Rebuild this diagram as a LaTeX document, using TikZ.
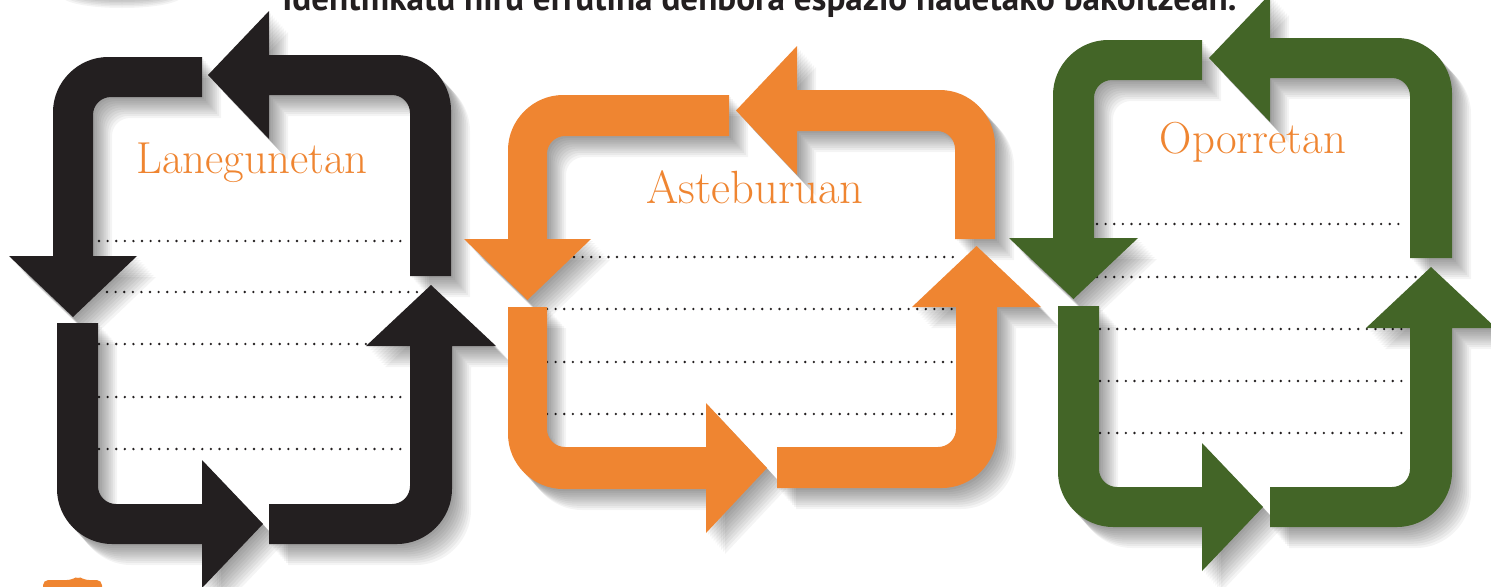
\documentclass[tikz,border=0pt]{standalone}
\usepackage{fontspec}
\newfontfamily\titlefont{PT Sans}
\usepackage{tikz}
\definecolor{loopblack}{HTML}{231F20}
\definecolor{looporange}{HTML}{EF8531}
\definecolor{loopgreen}{HTML}{436527}
\tikzstyle{dotline} = [draw=loopblack, line width=1.5pt, line cap=round, dash pattern=on 0pt off 4.9pt]
\tikzstyle{shadowlayer} = [fill=black, opacity=0.042]
\tikzstyle{looplabel} = [text=looporange, anchor=base, inner sep=0pt]

% shape with a soft shadow towards the lower right
\newcommand{\elfill}[1]{%
  \foreach \k in {1,...,10}
    \fill[shadowlayer, shift={(\k*1.9,\k*2.1)}] \elpath;
  \fill[#1] \elpath;}

% elbow arrow, head on the horizontal arm
% #1 colour, #2/#3 outer/inner x of vertical arm, #4/#5 outer/inner y of horizontal arm
% #6 x of head base, #7 y of the square end
\newcommand{\elbowh}[7]{%
  \pgfmathsetmacro\elsx{sign(#6-#2)}%
  \pgfmathsetmacro\elsy{sign(#7-#4)}%
  \pgfmathsetmacro\elmid{(#4+#5)/2}%
  \def\elpath{(#2,#7) -- (#2,{#4+\elsy*55})
    .. controls (#2,{#4+\elsy*25}) and ({#2+\elsx*25},#4) .. ({#2+\elsx*55},#4)
    -- (#6,#4) -- (#6,{#4-\elsy*44}) -- ({#6+\elsx*61},\elmid) -- (#6,{#5+\elsy*44})
    -- (#6,#5) -- ({#3+\elsx*18},#5)
    .. controls ({#3+\elsx*8},#5) and (#3,{#5+\elsy*8}) .. (#3,{#5+\elsy*18})
    -- (#3,#7) -- cycle}%
  \elfill{#1}}

% elbow arrow, head on the vertical arm
% #6 x of the square end, #7 y of head base
\newcommand{\elbowv}[7]{%
  \pgfmathsetmacro\elsx{sign(#6-#2)}%
  \pgfmathsetmacro\elsy{sign(#7-#4)}%
  \pgfmathsetmacro\elmid{(#2+#3)/2}%
  \def\elpath{(#6,#4) -- ({#2+\elsx*55},#4)
    .. controls ({#2+\elsx*25},#4) and (#2,{#4+\elsy*25}) .. (#2,{#4+\elsy*55})
    -- (#2,#7) -- ({#2-\elsx*44},#7) -- (\elmid,{#7+\elsy*61}) -- ({#3+\elsx*44},#7)
    -- (#3,#7) -- (#3,{#5+\elsy*18})
    .. controls (#3,{#5+\elsy*8}) and ({#3+\elsx*8},#5) .. ({#3+\elsx*18},#5)
    -- (#6,#5) -- cycle}%
  \elfill{#1}}

\begin{document}
\begin{tikzpicture}[x=0.02cm, y=-0.02cm]
  \useasboundingbox (0,0) rectangle (1491,586);
  \fill[white] (0,0) rectangle (1491,586);

  % heading, cut at the top edge
  \node (title) [anchor=base west, inner sep=0pt, text=loopblack,
    font=\titlefont\bfseries\fontsize{20}{20}\selectfont] at (282,10)
    {Identifikatu hiru errutina denbora espazio hauetako bakoitzean.};
  \foreach \k in {1,...,6}
    \fill[shadowlayer] (122,-4) ellipse ({36+\k*4} and {3+\k*1.5});
  \fill[looporange, rounded corners=3] (43,600) -- (43,580) -- (72,580) -- (78,576) -- (84,580) -- (102,580) -- (102,600) -- cycle;

  % writing lines
  \draw[dotline] (99,241) -- (403,241);
  \draw[dotline] (107,292) -- (422,292);
  \foreach \y in {344,397,449}
    \draw[dotline] (99,\y) -- (405,\y);
  \draw[dotline] (574,257) -- (960,257);
  \foreach \y in {309,362,414}
    \draw[dotline] (547,\y) -- (956,\y);
  \draw[dotline] (1097,224) -- (1405,224);
  \draw[dotline] (1097,277) -- (1423,277);
  \foreach \y in {329,381,433}
    \draw[dotline] (1100,\y) -- (1405,\y);

  % Lanegunetan
  \elbowv{loopblack}{53}{93}{57}{97}{202}{256}
  \elbowh{loopblack}{451}{410}{55}{95}{269}{276}
  \elbowh{loopblack}{57}{98}{544}{504}{202}{323}
  \elbowv{loopblack}{452}{410}{544}{504}{269}{346}

  % Asteburuan
  \elbowv{looporange}{508}{547}{95}{136}{729}{239}
  \elbowh{looporange}{995}{955}{90}{131}{797}{239}
  \elbowh{looporange}{508}{547}{489}{447}{706}{307}
  \elbowv{looporange}{997}{956}{488}{447}{777}{307}

  % Oporretan
  \elbowv{loopgreen}{1053}{1094}{40}{80}{1202}{238}
  \elbowh{loopgreen}{1452}{1410}{38}{78}{1270}{258}
  \elbowh{loopgreen}{1058}{1099}{527}{487}{1202}{306}
  \elbowv{loopgreen}{1452}{1410}{527}{487}{1270}{328}

  \node (lanegunetan) [looplabel, font=\fontsize{25.5}{26}\selectfont] at (252,173) {Lanegunetan};
  \node (asteburuan) [looplabel, font=\fontsize{26.5}{27}\selectfont] at (755,203) {Asteburuan};
  \node (oporretan) [looplabel, font=\fontsize{25.5}{26}\selectfont] at (1253,153) {Oporretan};
\end{tikzpicture}
\end{document}
